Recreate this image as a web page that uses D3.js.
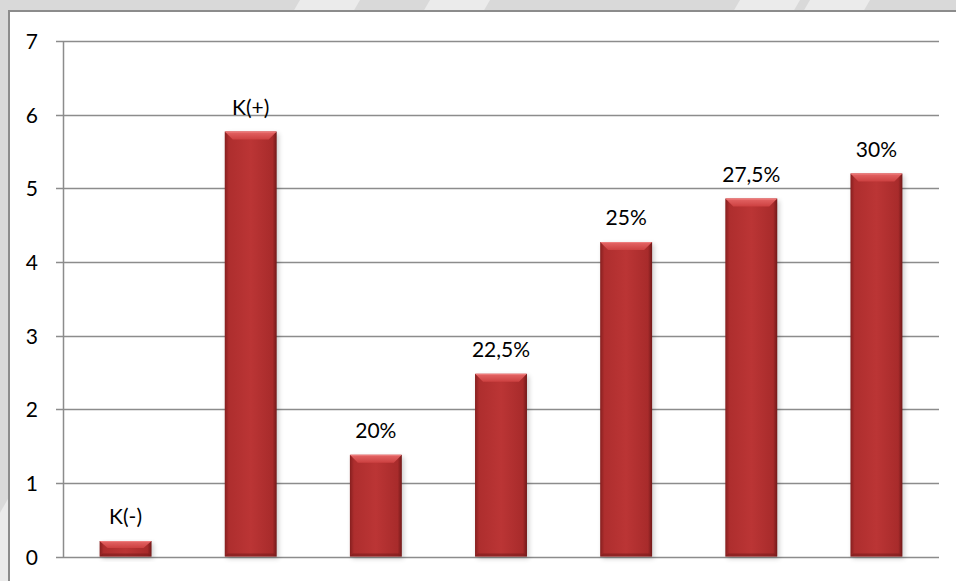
<!DOCTYPE html>
<html>
<head>
<meta charset="utf-8">
<script src="https://cdn.jsdelivr.net/npm/d3@7"></script>
<style>
  html, body { margin: 0; padding: 0; background: #d9d9d9; }
  svg { display: block; font-family: Lato, "Open Sans", sans-serif; }
</style>
</head>
<body>
<svg id="chart" width="956" height="581"></svg>
<script>
// data
const categories = ["K(-)", "K(+)", "20%", "22,5%", "25%", "27,5%", "30%"];
const values = [0.21, 5.77, 1.38, 2.48, 4.27, 4.86, 5.2];
const yTicks = [0, 1, 2, 3, 4, 5, 6, 7];

const W = 956, H = 581;
const margin = { left: 63, right: 17, top: 41, bottom: 24.5 };

const svg = d3.select("#chart");
const defs = svg.append("defs");

// background with faint diagonal stripes
svg.append("rect").attr("width", W).attr("height", H).attr("fill", "#d9d9d9");
const stripes = [[-40, 0], [90, 0], [400, 0], [470, 0], [800, 0], [880, 0]];
svg.append("g").selectAll("path")
  .data(stripes)
  .join("path")
  .attr("d", d => `M${d[0]},${H} L${d[0] + 60},${H} L${d[0] + 400},0 L${d[0] + 340},0 Z`)
  .attr("fill", "#ebebeb");

// chart frame (cropped on the right and bottom)
svg.append("rect")
  .attr("x", 9).attr("y", 11)
  .attr("width", W + 10).attr("height", H + 10)
  .attr("fill", "#ffffff")
  .attr("stroke", "#8c8c8c")
  .attr("stroke-width", 2);

const x = d3.scaleBand()
  .domain(categories)
  .range([margin.left, W - margin.right])
  .paddingInner(0.585)
  .paddingOuter(0.2925);

const y = d3.scaleLinear()
  .domain([0, 7])
  .range([H - margin.bottom, margin.top]);

// gridlines
svg.append("g")
  .selectAll("line")
  .data(yTicks)
  .join("line")
  .attr("x1", margin.left - 7)
  .attr("x2", W - margin.right)
  .attr("y1", d => Math.round(y(d)) + 0.5)
  .attr("y2", d => Math.round(y(d)) + 0.5)
  .attr("stroke", "#8c8c8c")
  .attr("stroke-width", 1.5);

// y axis line
svg.append("line")
  .attr("x1", margin.left + 0.5).attr("x2", margin.left + 0.5)
  .attr("y1", y(7)).attr("y2", y(0) + 1)
  .attr("stroke", "#8c8c8c")
  .attr("stroke-width", 1.5);

// y tick labels
svg.append("g")
  .selectAll("text")
  .data(yTicks)
  .join("text")
  .attr("x", 38)
  .attr("y", d => y(d) + 8)
  .attr("text-anchor", "end")
  .attr("font-size", 21)
  .attr("fill", "#000")
  .text(d => d);

// gradients for the bevelled bars
const body = defs.append("linearGradient").attr("id", "body").attr("x1", 0).attr("x2", 1).attr("y1", 0).attr("y2", 0);
body.append("stop").attr("offset", 0).attr("stop-color", "#861f1f");
body.append("stop").attr("offset", 0.08).attr("stop-color", "#ae2e2e");
body.append("stop").attr("offset", 0.5).attr("stop-color", "#bb3535");
body.append("stop").attr("offset", 0.92).attr("stop-color", "#a82b2b");
body.append("stop").attr("offset", 1).attr("stop-color", "#721919");

const topG = defs.append("linearGradient").attr("id", "topbevel").attr("x1", 0).attr("x2", 0).attr("y1", 0).attr("y2", 1);
topG.append("stop").attr("offset", 0).attr("stop-color", "#e46666");
topG.append("stop").attr("offset", 1).attr("stop-color", "#cc4040");

const shadow = defs.append("filter").attr("id", "shadow").attr("x", "-20%").attr("y", "-20%").attr("width", "140%").attr("height", "140%");
shadow.append("feGaussianBlur").attr("stdDeviation", 2.5);

const bars = svg.append("g")
  .selectAll("g")
  .data(categories.map((c, i) => ({ c, v: values[i] })))
  .join("g");

const bw = x.bandwidth();
const bev = 8, side = 3;

bars.append("rect")
  .attr("x", d => x(d.c) + 2)
  .attr("y", d => y(d.v) + 2)
  .attr("width", bw)
  .attr("height", d => y(0) - y(d.v))
  .attr("fill", "#000")
  .attr("opacity", 0.2)
  .attr("filter", "url(#shadow)");

bars.append("rect")
  .attr("x", d => x(d.c))
  .attr("y", d => y(d.v))
  .attr("width", bw)
  .attr("height", d => y(0) - y(d.v))
  .attr("fill", "url(#body)");

// bottom bevel
bars.append("path")
  .attr("d", d => {
    const x0 = x(d.c), x1 = x0 + bw, yb = y(0);
    const b = Math.min(side, (yb - y(d.v)) / 3);
    return `M${x0},${yb} L${x1},${yb} L${x1 - side},${yb - b} L${x0 + side},${yb - b} Z`;
  })
  .attr("fill", "#7a1c1c")
  .attr("opacity", 0.6);

// top bevel
bars.append("path")
  .attr("d", d => {
    const x0 = x(d.c), x1 = x0 + bw, yt = y(d.v);
    const h = Math.min(bev, (y(0) - yt) * 0.45);
    return `M${x0},${yt} L${x1},${yt} L${x1 - bev},${yt + h} L${x0 + bev},${yt + h} Z`;
  })
  .attr("fill", "url(#topbevel)");

// small bright edge on top
bars.append("line")
  .attr("x1", d => x(d.c) + 1)
  .attr("x2", d => x(d.c) + bw - 1)
  .attr("y1", d => y(d.v) + 0.5)
  .attr("y2", d => y(d.v) + 0.5)
  .attr("stroke", "#ee7c7c")
  .attr("stroke-width", 1);

// value labels
bars.append("text")
  .attr("x", d => x(d.c) + bw / 2)
  .attr("y", d => y(d.v) - 17)
  .attr("text-anchor", "middle")
  .attr("font-size", 21)
  .attr("fill", "#000")
  .text(d => d.c);
</script>
</body>
</html>
